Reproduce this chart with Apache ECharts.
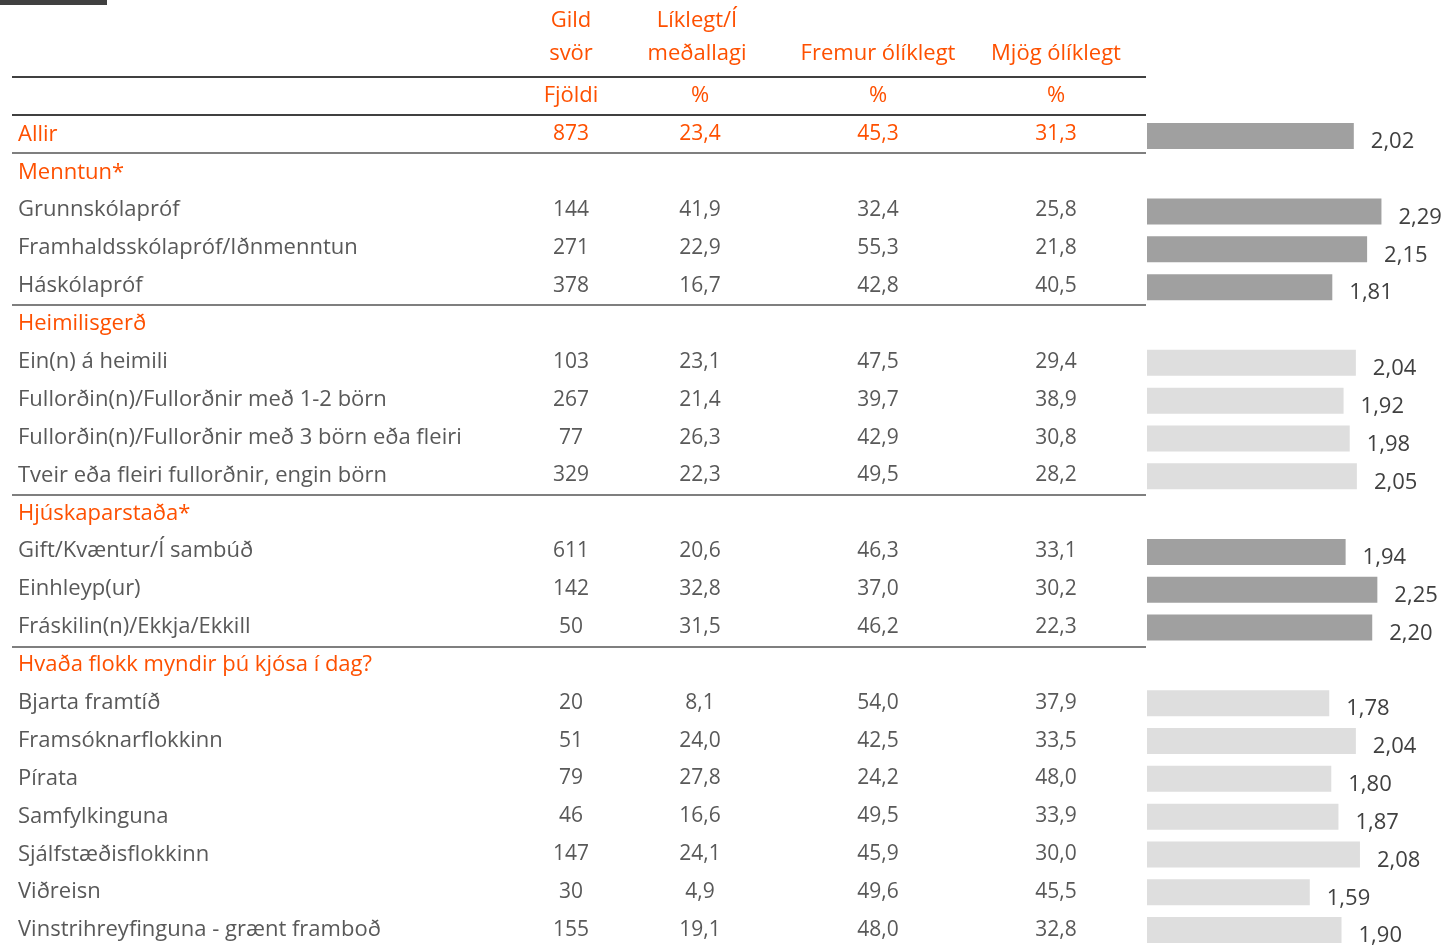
<!DOCTYPE html>
<html>
<head>
<meta charset="utf-8">
<script src="https://cdn.jsdelivr.net/npm/echarts@6/dist/echarts.min.js"></script>
<style>
  html, body { margin: 0; padding: 0; background: #fff; }
  #main { width: 1448px; height: 949px; }
</style>
</head>
<body>
<div id="main"></div>
<script>
// rows of the table, null in counts = group heading row
const rowLabels = ['Allir', 'Menntun*', 'Grunnskólapróf', 'Framhaldsskólapróf/Iðnmenntun', 'Háskólapróf',
    'Heimilisgerð', 'Ein(n) á heimili', 'Fullorðin(n)/Fullorðnir með 1-2 börn', 'Fullorðin(n)/Fullorðnir með 3 börn eða fleiri',
    'Tveir eða fleiri fullorðnir, engin börn', 'Hjúskaparstaða*', 'Gift/Kvæntur/Í sambúð', 'Einhleyp(ur)',
    'Fráskilin(n)/Ekkja/Ekkill', 'Hvaða flokk myndir þú kjósa í dag?', 'Bjarta framtíð', 'Framsóknarflokkinn',
    'Pírata', 'Samfylkinguna', 'Sjálfstæðisflokkinn', 'Viðreisn', 'Vinstrihreyfinguna - grænt framboð'];
const counts = [873, null, 144, 271, 378, null, 103, 267, 77, 329, null, 611, 142, 50, null, 20, 51, 79, 46, 147, 30, 155];
const likely = [23.4, null, 41.9, 22.9, 16.7, null, 23.1, 21.4, 26.3, 22.3, null, 20.6, 32.8, 31.5, null, 8.1, 24.0, 27.8, 16.6, 24.1, 4.9, 19.1];
const ratherUnlikely = [45.3, null, 32.4, 55.3, 42.8, null, 47.5, 39.7, 42.9, 49.5, null, 46.3, 37.0, 46.2, null, 54.0, 42.5, 24.2, 49.5, 45.9, 49.6, 48.0];
const veryUnlikely = [31.3, null, 25.8, 21.8, 40.5, null, 29.4, 38.9, 30.8, 28.2, null, 33.1, 30.2, 22.3, null, 37.9, 33.5, 48.0, 33.9, 30.0, 45.5, 32.8];
const meanScores = [2.02, null, 2.29, 2.15, 1.81, null, 2.04, 1.92, 1.98, 2.05, null, 1.94, 2.25, 2.20, null, 1.78, 2.04, 1.80, 1.87, 2.08, 1.59, 1.90];
const headerTop = ['Gild', 'Líklegt/Í', '', ''];
const headerMid = ['svör', 'meðallagi', 'Fremur ólíklegt', 'Mjög ólíklegt'];
const headerUnit = ['Fjöldi', '%', '%', '%'];

let orange = '#fe5000';
let textGray = '#595959';
let darkBar = '#a0a0a0';
let lightBar = '#dedede';
let font = 'Open Sans';
let colX = [571, 700, 878, 1056];

function pct(v) {
    return v === null ? '' : v.toFixed(1).replace('.', ',');
}

// dark bars for the total and for groups marked with *
function barColor(i) {
    for (let j = i; j >= 0; j--) {
        if (j === 0) return darkBar;
        if (counts[j] === null) return rowLabels[j].endsWith('*') ? darkBar : lightBar;
    }
    return lightBar;
}

function rowText(value, index) {
    if (counts[index] === null) return '{g|' + value + '}';
    let p = index === 0 ? 'o' : '';
    return '{' + p + 'name|' + value + '}{' + p + 'n|' + counts[index] + '}{' + p + 'c1|' + pct(likely[index]) +
        '}{' + p + 'c2|' + pct(ratherUnlikely[index]) + '}{' + p + 'c3|' + pct(veryUnlikely[index]) + '}';
}

function cell(w, color, align, size) {
    return {width: w, align: align, color: color, fontSize: size || 21, fontFamily: font};
}

let rich = {
    name: cell(503, textGray, 'left', 22), n: cell(100, textGray, 'center'), c1: cell(158, textGray, 'center'),
    c2: cell(198, textGray, 'center'), c3: cell(158, textGray, 'center'),
    oname: cell(503, orange, 'left', 22), on: cell(100, orange, 'center'), oc1: cell(158, orange, 'center'),
    oc2: cell(198, orange, 'center'), oc3: cell(158, orange, 'center'),
    g: cell(503, orange, 'left', 22)
};

let graphics = [
    {type: 'rect', shape: {x: 0, y: 0, width: 107, height: 5}, style: {fill: '#404040'}}
];
[[77, '#404040'], [115, '#404040'], [153, '#7f7f7f'], [305, '#7f7f7f'], [495, '#7f7f7f'], [647, '#7f7f7f']].forEach(function (l) {
    graphics.push({type: 'line', shape: {x1: 12, y1: l[0], x2: 1146, y2: l[0]}, style: {stroke: l[1], lineWidth: 2}});
});
function headText(txt, x, y) {
    return {type: 'text', x: x, y: y, style: {text: txt, fill: orange, font: '22px ' + font, textAlign: 'center', textVerticalAlign: 'middle'}};
}
for (let i = 0; i < 4; i++) {
    if (headerTop[i]) graphics.push(headText(headerTop[i], colX[i] - (i === 1 ? 3 : 0), 21));
    graphics.push(headText(headerMid[i], colX[i] - (i === 1 ? 3 : 0), 54));
    graphics.push(headText(headerUnit[i], colX[i], 96));
}

let chart = echarts.init(document.getElementById('main'));
chart.setOption({
    backgroundColor: '#fff',
    animation: false,
    graphic: graphics,
    grid: [
        {left: 1147, top: 117, width: 301, height: 836},
        {left: 1147, top: 115.5, width: 1, height: 836}
    ],
    xAxis: [
        {gridIndex: 0, type: 'value', min: 0, max: 2.94, show: false},
        {gridIndex: 1, type: 'value', show: false}
    ],
    yAxis: [
        {gridIndex: 0, type: 'category', inverse: true, data: rowLabels, show: false},
        {
            gridIndex: 1, type: 'category', inverse: true, data: rowLabels,
            axisLine: {show: false}, axisTick: {show: false}, splitLine: {show: false},
            axisLabel: {
                interval: 0, align: 'left', margin: 1129,
                formatter: rowText, rich: rich
            }
        }
    ],
    series: [
        {
            type: 'bar',
            xAxisIndex: 0, yAxisIndex: 0,
            barWidth: 26,
            data: meanScores.map(function (v, i) {
                return v === null ? '-' : {value: v, itemStyle: {color: barColor(i)}};
            }),
            label: {
                show: true, position: 'right', distance: 17, offset: [0, 6],
                color: '#404040', fontSize: 22, fontFamily: font,
                formatter: function (p) {
                    return p.value.toFixed(2).replace('.', ',');
                }
            }
        }
    ]
});
</script>
</body>
</html>
